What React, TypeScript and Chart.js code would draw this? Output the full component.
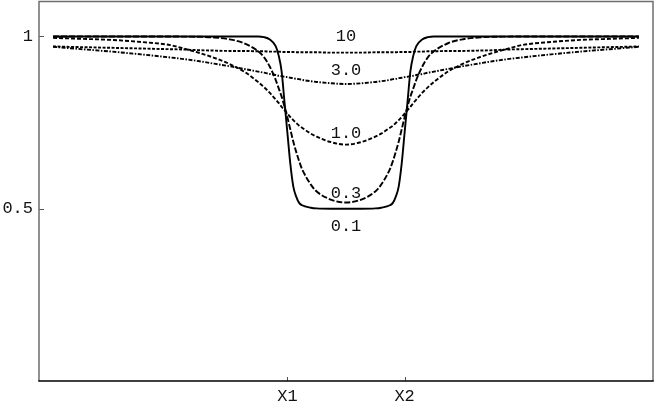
import React, { useEffect, useRef } from 'react';
import { Chart, registerables } from 'chart.js';

Chart.register(...registerables);

const xValues = [
  -5, -4.5, -4, -3.5, -3, -2.75, -2.5, -2.25, -2, -1.75, -1.5, -1.4, -1.3, -1.2, -1.15, -1.1, -1.05, -1,
  -0.95, -0.9, -0.85, -0.8, -0.75, -0.6, -0.5, -0.25, 0, 0.25, 0.5, 0.6, 0.75, 0.8, 0.85, 0.9, 0.95, 1,
  1.05, 1.1, 1.15, 1.2, 1.3, 1.4, 1.5, 1.75, 2, 2.25, 2.5, 2.75, 3, 3.5, 4, 4.5, 5,
];

const curve01 = [
  1, 1, 1, 1, 1, 1, 1, 1, 1, 1, 1, 0.998, 0.991, 0.972, 0.945, 0.9, 0.81, 0.72,
  0.63, 0.565, 0.535, 0.517, 0.51, 0.503, 0.501, 0.5, 0.5, 0.5, 0.501, 0.503, 0.51, 0.517, 0.535, 0.565, 0.63, 0.72,
  0.81, 0.9, 0.945, 0.972, 0.991, 0.998, 1, 1, 1, 1, 1, 1, 1, 1, 1, 1, 1,
];

const curve03 = [
  1, 1, 1, 1, 1, 0.9995, 0.999, 0.997, 0.992, 0.981, 0.957, 0.94, 0.912, 0.874, 0.85, 0.826, 0.797, 0.765,
  0.73, 0.695, 0.665, 0.638, 0.615, 0.57, 0.55, 0.526, 0.518, 0.526, 0.55, 0.57, 0.615, 0.638, 0.665, 0.695, 0.73, 0.765,
  0.797, 0.826, 0.85, 0.874, 0.912, 0.94, 0.957, 0.981, 0.992, 0.997, 0.999, 0.9995, 1, 1, 1, 1, 1,
];

const curve10 = [
  0.996, 0.993, 0.99, 0.984, 0.975, 0.964, 0.952, 0.938, 0.921, 0.899, 0.868, 0.853, 0.836, 0.817, 0.807, 0.796, 0.786, 0.776,
  0.766, 0.757, 0.749, 0.741, 0.735, 0.718, 0.709, 0.693, 0.686, 0.693, 0.709, 0.718, 0.735, 0.741, 0.749, 0.757, 0.766, 0.776,
  0.786, 0.796, 0.807, 0.817, 0.836, 0.853, 0.868, 0.899, 0.921, 0.938, 0.952, 0.964, 0.975, 0.984, 0.99, 0.993, 0.996,
];

const curve30 = [
  0.97, 0.963, 0.956, 0.948, 0.939, 0.934, 0.928, 0.921, 0.914, 0.906, 0.898, 0.895, 0.891, 0.888, 0.886, 0.885, 0.883, 0.882,
  0.88, 0.879, 0.877, 0.876, 0.874, 0.87, 0.868, 0.864, 0.862, 0.864, 0.868, 0.87, 0.874, 0.876, 0.877, 0.879, 0.88, 0.882,
  0.883, 0.885, 0.886, 0.888, 0.891, 0.895, 0.898, 0.906, 0.914, 0.921, 0.928, 0.934, 0.939, 0.948, 0.956, 0.963, 0.97,
];

const curve100 = [
  0.971, 0.969, 0.967, 0.965, 0.963, 0.962, 0.96, 0.959, 0.958, 0.958, 0.957, 0.957, 0.956, 0.956, 0.956, 0.955, 0.955, 0.955,
  0.955, 0.955, 0.954, 0.954, 0.954, 0.954, 0.954, 0.953, 0.953, 0.953, 0.954, 0.954, 0.954, 0.954, 0.954, 0.955, 0.955, 0.955,
  0.955, 0.955, 0.956, 0.956, 0.956, 0.957, 0.957, 0.958, 0.958, 0.959, 0.96, 0.962, 0.963, 0.965, 0.967, 0.969, 0.971,
];

const seriesNames = ['0.1', '0.3', '1.0', '3.0', '10'];
const seriesValues = [curve01, curve03, curve10, curve30, curve100];
const seriesDashes: number[][] = [[], [6, 2], [4, 2], [4, 1.5, 1.5, 1.5], [3, 1.5]];

const annotationTexts = ['10', '3.0', '1.0', '0.3', '0.1'];
const annotationY = [0.999, 0.901, 0.717, 0.545, 0.448];
const annotationX = 0;

const xTickValues = [-1, 1];
const xTickLabels = ['X1', 'X2'];
const yTickValues = [0.5, 1];
const yTickLabels = ['0.5', '1'];

const FONT = '"Liberation Mono", "Courier New", monospace';

const framePlugin = {
  id: 'framePlugin',
  afterDraw(chart: any) {
    const { ctx, chartArea: a, scales } = chart;
    ctx.save();
    ctx.strokeStyle = '#555';
    ctx.lineWidth = 1;
    yTickValues.forEach((v) => {
      const y = Math.round(scales.y.getPixelForValue(v)) + 0.5;
      ctx.beginPath();
      ctx.moveTo(a.left, y);
      ctx.lineTo(a.left + 5, y);
      ctx.stroke();
    });
    xTickValues.forEach((v) => {
      const x = Math.round(scales.x.getPixelForValue(v)) + 0.5;
      ctx.beginPath();
      ctx.moveTo(x, a.bottom);
      ctx.lineTo(x, a.bottom - 4);
      ctx.stroke();
    });
    ctx.strokeStyle = '#6e6e6e';
    ctx.lineWidth = 1.5;
    ctx.beginPath();
    ctx.moveTo(a.left, a.bottom);
    ctx.lineTo(a.left, a.top - 0.5);
    ctx.lineTo(a.right, a.top - 0.5);
    ctx.lineTo(a.right, a.bottom);
    ctx.stroke();
    ctx.strokeStyle = '#000';
    ctx.beginPath();
    ctx.moveTo(a.left - 0.75, a.bottom);
    ctx.lineTo(a.right + 0.75, a.bottom);
    ctx.stroke();
    ctx.fillStyle = '#111';
    ctx.font = `17px ${FONT}`;
    ctx.textAlign = 'center';
    ctx.textBaseline = 'middle';
    annotationTexts.forEach((t, i) => {
      ctx.fillText(t, scales.x.getPixelForValue(annotationX), scales.y.getPixelForValue(annotationY[i]));
    });
    ctx.restore();
  },
};

export default function App() {
  const canvasRef = useRef<HTMLCanvasElement | null>(null);

  useEffect(() => {
    const canvas = canvasRef.current;
    if (!canvas) return;
    const chart = new Chart(canvas, {
      type: 'scatter',
      data: {
        datasets: seriesNames.map((name, si) => ({
          label: name,
          data: xValues.map((x, i) => ({ x, y: seriesValues[si][i] })),
          showLine: true,
          borderColor: '#000',
          backgroundColor: '#000',
          borderWidth: 1.9,
          borderDash: seriesDashes[si],
          pointRadius: 0,
          cubicInterpolationMode: 'monotone',
          fill: false,
        })),
      },
      options: {
        animation: false,
        responsive: false,
        events: [],
        layout: { padding: { top: 2, right: 2, left: 0, bottom: 0 } },
        plugins: { legend: { display: false }, tooltip: { enabled: false } },
        scales: {
          x: {
            type: 'linear',
            min: -5.24,
            max: 5.24,
            afterBuildTicks: (s: any) => {
              s.ticks = xTickValues.map((v) => ({ value: v }));
            },
            afterFit: (s: any) => {
              s.height = 20;
              s.paddingLeft = 0;
              s.paddingRight = 0;
            },
            ticks: {
              autoSkip: false,
              maxRotation: 0,
              padding: 5,
              color: '#111',
              font: { family: FONT, size: 17 },
              callback: (v: any) => xTickLabels[xTickValues.indexOf(Number(v))] ?? '',
            },
            grid: { display: false, drawTicks: false },
            border: { display: false },
          },
          y: {
            type: 'linear',
            min: 0,
            max: 1.1,
            afterBuildTicks: (s: any) => {
              s.ticks = yTickValues.map((v) => ({ value: v }));
            },
            afterFit: (s: any) => {
              s.width = 39;
              s.paddingTop = 0;
              s.paddingBottom = 0;
            },
            ticks: {
              autoSkip: false,
              padding: 6,
              color: '#111',
              font: { family: FONT, size: 17 },
              callback: (v: any) => yTickLabels[yTickValues.indexOf(Number(v))] ?? '',
            },
            grid: { display: false, drawTicks: false },
            border: { display: false },
          },
        },
      },
      plugins: [framePlugin],
    } as any);
    return () => chart.destroy();
  }, []);

  return (
    <div style={{ position: 'absolute', left: 0, top: 0, width: 655, height: 401, background: '#fff' }}>
      <canvas ref={canvasRef} width={655} height={401} style={{ display: 'block', width: 655, height: 401 }} />
    </div>
  );
}
